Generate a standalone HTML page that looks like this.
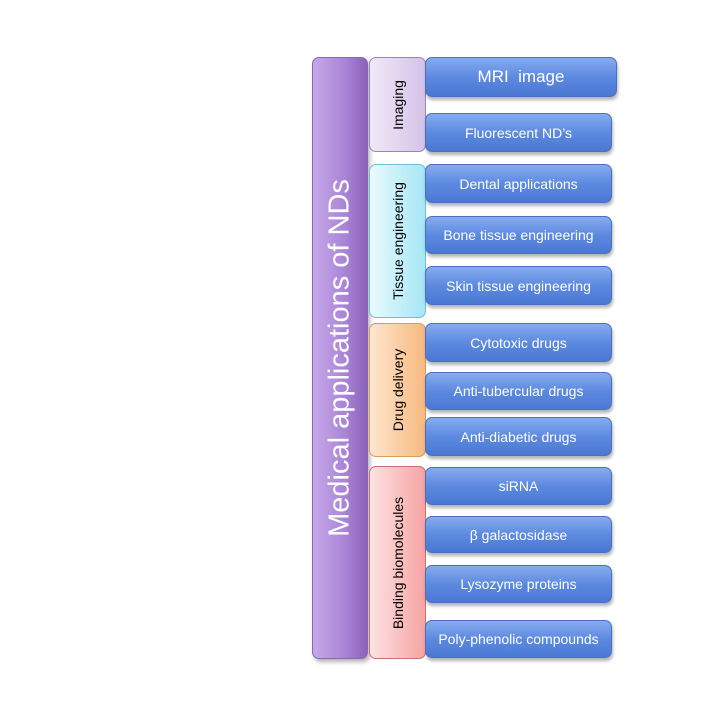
<!DOCTYPE html>
<html><head><style>
body{margin:0;width:720px;height:709px;background:#fff;position:relative;font-family:"Liberation Sans",sans-serif;overflow:hidden}
.b{position:absolute;box-sizing:border-box;border-radius:7px}
.main{left:312px;top:57px;width:56px;height:602px;background:linear-gradient(90deg,#c6a8e8,#a983d6 60%,#8b62b8);border:1px solid #8a66b0;box-shadow:2px 3px 4px rgba(0,0,0,.3)}
.cat{left:369px;width:57px;border:1px solid;}
.v{position:absolute;left:50%;top:50%;transform:translate(-50%,-50%) rotate(-90deg);white-space:nowrap}
.blue{left:425px;width:187px;background:linear-gradient(180deg,#86acee,#5d8ae0 50%,#4a78d2);border:1px solid #4a70c0;color:#fff;font-size:14px;display:flex;align-items:center;justify-content:center;box-shadow:1px 3px 3px rgba(0,0,0,.3)}
</style></head><body>
<div class="b main"><div class="v" style="color:#fff;font-size:29px">Medical applications of NDs</div></div>
<div class="b cat" style="top:57px;height:95px;background:linear-gradient(90deg,#f1e9f8,#d4c2e8);border-color:#9a84b8"><div class="v" style="font-size:14px">Imaging</div></div>
<div class="b cat" style="top:164px;height:154px;background:linear-gradient(90deg,#e9fbfe,#a6e6f5);border-color:#6cc0d4"><div class="v" style="font-size:14px">Tissue engineering</div></div>
<div class="b cat" style="top:323px;height:134px;background:linear-gradient(90deg,#fde6cf,#f8b97f);border-color:#d99a5c"><div class="v" style="font-size:14px">Drug delivery</div></div>
<div class="b cat" style="top:466px;height:193px;background:linear-gradient(90deg,#fde3e3,#f7a3a3);border-color:#c97070"><div class="v" style="font-size:14px">Binding biomolecules</div></div>
<div class="b blue" style="top:57px;height:40px;width:192px;font-size:17px">MRI&nbsp; image</div>
<div class="b blue" style="top:113px;height:39px">Fluorescent ND’s</div>
<div class="b blue" style="top:164px;height:39px">Dental applications</div>
<div class="b blue" style="top:216px;height:38px">Bone tissue engineering</div>
<div class="b blue" style="top:266px;height:39px">Skin tissue engineering</div>
<div class="b blue" style="top:323px;height:39px">Cytotoxic drugs</div>
<div class="b blue" style="top:372px;height:38px">Anti-tubercular drugs</div>
<div class="b blue" style="top:417px;height:39px">Anti-diabetic drugs</div>
<div class="b blue" style="top:467px;height:38px">siRNA</div>
<div class="b blue" style="top:516px;height:37px">β galactosidase</div>
<div class="b blue" style="top:565px;height:38px">Lysozyme proteins</div>
<div class="b blue" style="top:620px;height:38px">Poly-phenolic compounds</div>
</body></html>
